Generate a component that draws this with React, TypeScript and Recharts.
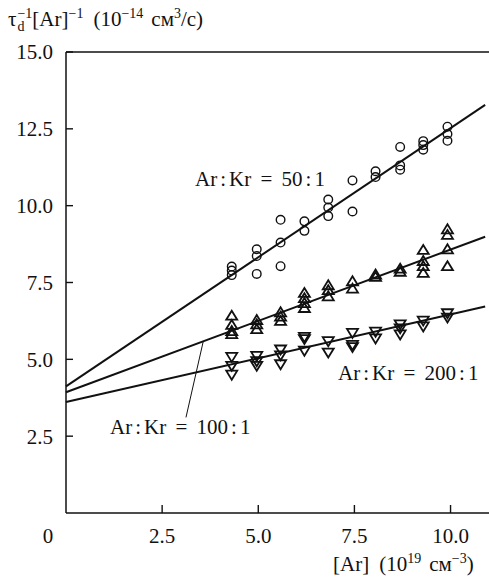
import { ComposedChart, Scatter, XAxis, YAxis, ReferenceLine } from "recharts";

// concentration columns, [Ar] in 10^19 cm^-3
const arConc = [4.31, 4.96, 5.58, 6.2, 6.82, 7.45, 8.05, 8.69, 9.29, 9.92];

// measured points per column
const kr50 = [
  [8.02, 7.89, 7.74],
  [8.58, 8.36, 7.78],
  [9.54, 8.8, 8.03],
  [9.49, 9.18],
  [10.2, 9.94, 9.66],
  [10.82, 9.81],
  [11.12, 10.93],
  [11.91, 11.31, 11.17],
  [12.1, 11.97, 11.82],
  [12.57, 12.33, 12.11],
];
const kr100 = [
  [6.42, 6.12, 5.92, 5.82],
  [6.28, 6.14, 5.98],
  [6.53, 6.39, 6.25],
  [7.16, 6.99, 6.83, 6.67],
  [7.41, 7.25, 7.05],
  [7.54, 7.3],
  [7.76, 7.68],
  [7.95, 7.85],
  [8.56, 8.2, 8.03, 7.81],
  [9.23, 9.05, 8.58, 8.03],
];
const kr200 = [
  [5.08, 4.79, 4.5],
  [5.11, 4.94, 4.79],
  [5.32, 5.13, 4.84],
  [5.73, 5.66, 5.28],
  [5.59, 5.22],
  [5.86, 5.47, 5.4],
  [5.9, 5.68],
  [6.14, 6.01, 5.81],
  [6.26, 6.07],
  [6.5, 6.36],
];

// linear fits: value at x = 0 and at the end of the line
const fitEndX = 10.9;
const fitStart = [4.12, 3.93, 3.61];
const fitEnd = [13.28, 8.99, 6.72];

// leader line for the 100:1 label
const leaderFrom = { x: 3.57, y: 5.59 };
const leaderTo = { x: 3.12, y: 3.11 };

const xTicks = [0, 2.5, 5, 7.5, 10];
const yTicks = [2.5, 5, 7.5, 10, 12.5, 15];

const FONT = "Liberation Serif";
const INK = "#111";

const toPoints = (cols: number[][]) =>
  cols.flatMap((ys, i) => ys.map((y) => ({ x: arConc[i], y })));

const Circle = ({ cx, cy }: any) => (
  <circle cx={cx} cy={cy} r={4.3} fill="none" stroke={INK} strokeWidth={1.4} />
);
const TriUp = ({ cx, cy }: any) => (
  <path
    d={`M${cx},${cy - 5} L${cx + 5.5},${cy + 4} L${cx - 5.5},${cy + 4} Z`}
    fill="none"
    stroke={INK}
    strokeWidth={1.8}
  />
);
const TriDown = ({ cx, cy }: any) => (
  <path
    d={`M${cx},${cy + 5} L${cx + 5.5},${cy - 4} L${cx - 5.5},${cy - 4} Z`}
    fill="none"
    stroke={INK}
    strokeWidth={1.8}
  />
);

const YTick = ({ x, y, payload }: any) => (
  <g>
    <line x1={x} x2={x + 7} y1={y} y2={y} stroke={INK} strokeWidth={1.4} />
    <text x={x - 13} y={y} dy="0.35em" textAnchor="end" fontFamily={FONT} fontSize={21} fill={INK}>
      {payload.value.toFixed(1)}
    </text>
  </g>
);

const XTick = ({ x, y, payload }: any) => {
  const zero = payload.value === 0;
  return (
    <g>
      {!zero && <line x1={x} x2={x} y1={y} y2={y - 8} stroke={INK} strokeWidth={1.4} />}
      <text x={zero ? x - 18 : x} y={y + 30} textAnchor="middle" fontFamily={FONT} fontSize={21} fill={INK}>
        {zero ? "0" : payload.value.toFixed(1)}
      </text>
    </g>
  );
};

// html text placed by its baseline
const Label = ({ left, base, children }: any) => (
  <div
    style={{
      position: "absolute",
      left,
      top: base - 17.6,
      fontFamily: FONT,
      fontSize: 21,
      lineHeight: "21px",
      color: INK,
      whiteSpace: "nowrap",
    }}
  >
    {children}
  </div>
);
const Sup = ({ children, ml = 0 }: any) => (
  <span style={{ fontSize: 14, position: "relative", top: -8, marginLeft: ml }}>{children}</span>
);
// stacked superscript over subscript
const SupSub = ({ sup, sub }: any) => (
  <span
    style={{
      display: "inline-flex",
      flexDirection: "column",
      fontSize: 14,
      lineHeight: "13px",
      position: "relative",
      top: -8,
      marginLeft: 1,
    }}
  >
    <span>{sup}</span>
    <span>{sub}</span>
  </span>
);

const Ratio = ({ left, base, n }: { left: number; base: number; n: string }) => (
  <Label left={left} base={base}>
    Ar<span style={{ margin: "0 3px" }}>:</span>Kr
    <span style={{ margin: "0 4px" }}> = </span>
    {n}
    <span style={{ margin: "0 3px" }}>:</span>1
  </Label>
);

const forceFont = `#root, #root * { font-family: "Liberation Serif", serif !important; }`;

export default function App() {
  const markers = [
    { data: toPoints(kr50), shape: Circle },
    { data: toPoints(kr100), shape: TriUp },
    { data: toPoints(kr200), shape: TriDown },
  ];
  return (
    <div style={{ position: "absolute", left: 0, top: 0, width: 489, height: 580, background: "#fff", fontFamily: FONT }}>
      <style>{forceFont}</style>
      <ComposedChart width={489} height={580} margin={{ top: 52, right: 0, bottom: 37, left: 0 }}>
        <XAxis
          type="number"
          dataKey="x"
          domain={[0, 11]}
          ticks={xTicks}
          tick={<XTick />}
          tickSize={0}
          tickMargin={0}
          tickLine={false}
          height={30}
          axisLine={{ stroke: INK, strokeWidth: 1.5 }}
          allowDataOverflow
        />
        <YAxis
          type="number"
          dataKey="y"
          domain={[0, 15]}
          ticks={yTicks}
          tick={<YTick />}
          tickSize={0}
          tickMargin={0}
          tickLine={false}
          width={66}
          axisLine={{ stroke: INK, strokeWidth: 1.5 }}
          allowDataOverflow
        />
        <ReferenceLine y={15} stroke={INK} strokeWidth={1.5} />
        {fitStart.map((s, i) => (
          <ReferenceLine
            key={i}
            segment={[
              { x: 0, y: s },
              { x: fitEndX, y: fitEnd[i] },
            ]}
            stroke={INK}
            strokeWidth={2}
          />
        ))}
        <ReferenceLine segment={[leaderFrom, leaderTo]} stroke={INK} strokeWidth={1} />
        {markers.map((m, i) => (
          <Scatter key={i} data={m.data} dataKey="y" shape={m.shape} isAnimationActive={false} />
        ))}
      </ComposedChart>
      <Label left={8} base={27}>
        τ<SupSub sup="−1" sub="d" />
        [Ar]<Sup>−1</Sup>
        <span style={{ marginLeft: 10 }}>(10</span>
        <Sup>−14</Sup>
        <span style={{ marginLeft: 8 }}>см</span>
        <Sup>3</Sup>/с)
      </Label>
      <Label left={333} base={572}>
        [Ar]<span style={{ marginLeft: 10 }}>(10</span>
        <Sup>19</Sup>
        <span style={{ marginLeft: 8 }}>см</span>
        <Sup>−3</Sup>)
      </Label>
      <Ratio left={195} base={187} n="50" />
      <Ratio left={338} base={381} n="200" />
      <Ratio left={110} base={435} n="100" />
    </div>
  );
}
